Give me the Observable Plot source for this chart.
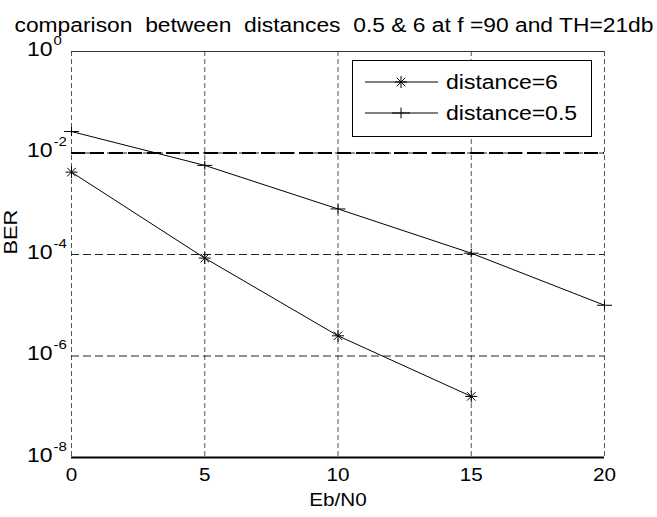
<!DOCTYPE html>
<html>
<head>
<meta charset="utf-8">
<script src="https://cdn.jsdelivr.net/npm/d3@7"></script>
<script src="https://cdn.jsdelivr.net/npm/@observablehq/plot@0.6"></script>
<style>
  html, body { margin: 0; padding: 0; background: #fff; }
  #wrap { position: relative; width: 657px; height: 517px; font-family: "Liberation Sans", Arial, sans-serif; }
  #legend { position: absolute; left: 0; top: 0; }
</style>
</head>
<body>
<div id="wrap"></div>
<script>
// ---- data ----
const ebn0 = [0, 5, 10, 15, 20];
const ber6 = [4.2e-3, 8.5e-5, 2.5e-6, 1.6e-7];          // distance = 6 (x = 0..15)
const ber05 = [2.65e-2, 5.7e-3, 7.9e-4, 1.06e-4, 1.0e-5]; // distance = 0.5
const threshold = [1e-2];
const xTicks = [0, 5, 10, 15, 20];
const yTicks = [1e0, 1e-2, 1e-4, 1e-6, 1e-8];
const yExps = ["0", "-2", "-4", "-6", "-8"];
const seriesNames = ["distance=6", "distance=0.5"];
const titleText = "comparison  between  distances  0.5 & 6 at f =90 and TH=21db";
const xLabel = "Eb/N0";
const yLabel = "BER";

const d6 = ber6.map((v, i) => ({x: ebn0[i], y: v}));
const d05 = ber05.map((v, i) => ({x: ebn0[i], y: v}));
const yTickData = yTicks.map((v, i) => ({v, e: yExps[i]}));

// custom stroked marker symbols
const asterisk = {draw(c, size) {
  const r = Math.sqrt(size / Math.PI), d = r * 0.7071;
  c.moveTo(-r, 0); c.lineTo(r, 0); c.moveTo(0, -r); c.lineTo(0, r);
  c.moveTo(-d, -d); c.lineTo(d, d); c.moveTo(-d, d); c.lineTo(d, -d);
}};
const plus = {draw(c, size) {
  const r = Math.sqrt(size / Math.PI);
  c.moveTo(-r, 0); c.lineTo(r, 0); c.moveTo(0, -r * 0.6); c.lineTo(0, r * 0.6);
}};

const chart = Plot.plot({
  width: 657, height: 517,
  marginLeft: 71, marginRight: 53, marginTop: 51, marginBottom: 60,
  style: {fontFamily: "'Liberation Sans', Arial, sans-serif", color: "#000", background: "#fff", overflow: "visible"},
  x: {domain: [0, 20]},
  y: {type: "log", domain: [1e-8, 1], axis: null},
  marks: [
    Plot.gridX(xTicks, {stroke: "#555", strokeOpacity: 1, strokeDasharray: "5,3", strokeWidth: 1}),
    Plot.gridY(yTicks, {stroke: "#222", strokeOpacity: 1, strokeDasharray: "8,4", strokeWidth: 1}),
    Plot.ruleY(threshold, {stroke: "#000", strokeWidth: 2, strokeDasharray: "14,5"}),
    Plot.ruleY([yTicks[0]], {stroke: "#333", strokeWidth: 1.2}),
    Plot.ruleY([yTicks[yTicks.length - 1]], {stroke: "#000", strokeWidth: 2}),
    Plot.line(d05, {x: "x", y: "y", stroke: "#000", strokeWidth: 1}),
    Plot.line(d6, {x: "x", y: "y", stroke: "#000", strokeWidth: 1}),
    Plot.dot(d05, {x: "x", y: "y", symbol: plus, r: 7.5, stroke: "#000", fill: "none", strokeWidth: 1}),
    Plot.dot(d6, {x: "x", y: "y", symbol: asterisk, r: 6, stroke: "#000", fill: "none", strokeWidth: 1}),
    Plot.axisX(xTicks, {tickSize: 0, tickPadding: 11, fontSize: 18, label: null, tickFormat: d => String(d)}),
    Plot.text(yTickData, {y: "v", text: () => "10", frameAnchor: "left", textAnchor: "end", dx: -19, dy: -2, fontSize: 20}),
    Plot.text(yTickData, {y: "v", text: "e", frameAnchor: "left", textAnchor: "start", dx: -18, dy: -11, fontSize: 13}),
    Plot.text([xLabel], {text: d => d, frameAnchor: "bottom", dy: 48, fontSize: 18}),
    Plot.text([yLabel], {text: d => d, frameAnchor: "left", rotate: -90, dx: -61, fontSize: 19}),
    Plot.text([titleText], {text: d => d, frameAnchor: "top", dx: -4, dy: -34, fontSize: 20})
  ]
});

const wrap = document.getElementById("wrap");
wrap.appendChild(chart);

// horizontally widen the text, as in the reference rendering
const STRETCH = 1.15;
chart.querySelectorAll("text").forEach(t => {
  const s = t.textContent;
  if (!s) return;
  const len = t.getComputedTextLength();
  let target = len * STRETCH;
  if (s === titleText) target = 639;
  t.setAttribute("textLength", target.toFixed(1));
  t.setAttribute("lengthAdjust", "spacingAndGlyphs");
});

// ---- legend (overlay) ----
const leg = d3.select(wrap).append("svg").attr("id", "legend")
  .attr("width", 657).attr("height", 517)
  .style("font-family", "'Liberation Sans', Arial, sans-serif");
const box = {x: 352, y: 60, w: 239, h: 76};
leg.append("rect").attr("x", box.x + 0.5).attr("y", box.y + 0.5).attr("width", box.w).attr("height", box.h)
  .attr("fill", "#fff").attr("stroke", "#000").attr("stroke-width", 1);
const rows = [{name: seriesNames[0], sym: asterisk, r: 6}, {name: seriesNames[1], sym: plus, r: 9}];
rows.forEach((row, i) => {
  const cy = box.y + 22 + i * 31;
  leg.append("line").attr("x1", box.x + 13).attr("x2", box.x + 86).attr("y1", cy).attr("y2", cy)
    .attr("stroke", "#000").attr("stroke-width", 1);
  const p = d3.path();
  row.sym.draw(p, Math.PI * row.r * row.r);
  leg.append("path").attr("d", p.toString()).attr("transform", `translate(${box.x + 49},${cy})`)
    .attr("stroke", "#000").attr("fill", "none");
  const t = leg.append("text").attr("x", box.x + 94).attr("y", cy + 7).attr("font-size", 20).text(row.name);
  const n = t.node();
  n.setAttribute("textLength", (n.getComputedTextLength() * STRETCH).toFixed(1));
  n.setAttribute("lengthAdjust", "spacingAndGlyphs");
});
</script>
</body>
</html>
